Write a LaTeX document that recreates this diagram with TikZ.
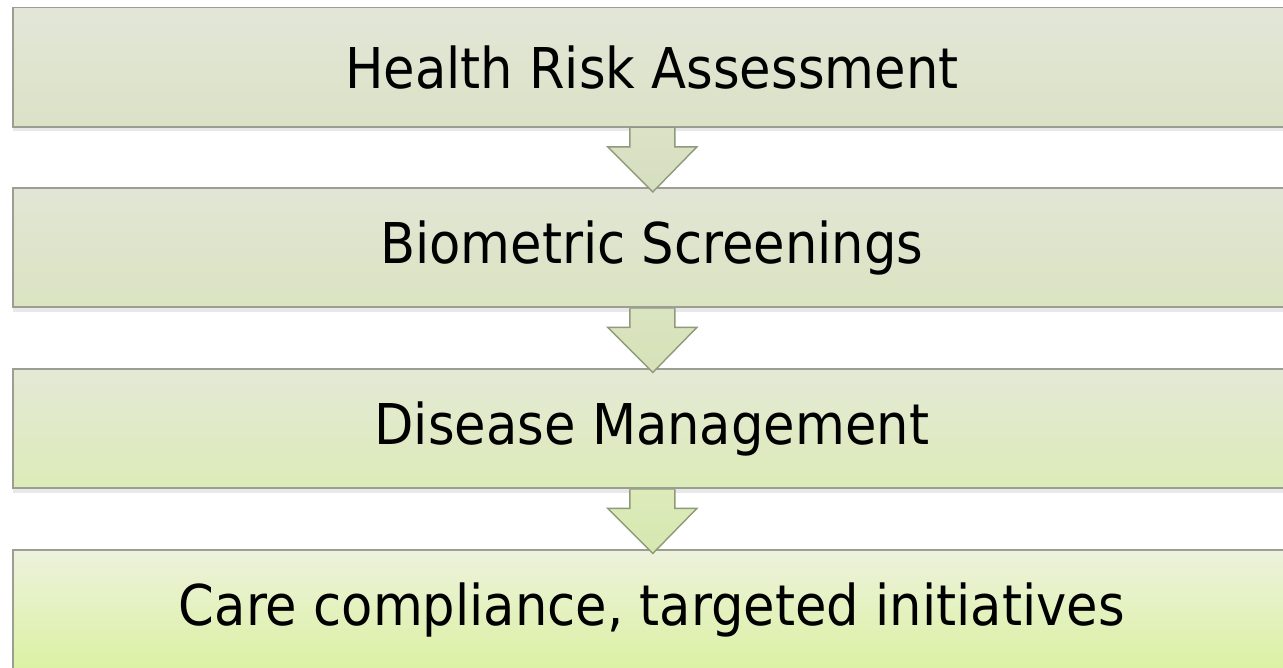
\documentclass[tikz,border=0pt]{standalone}
\usepackage{fontspec}
\setmainfont[FakeStretch=0.91]{DejaVu Sans}
\usetikzlibrary{positioning,calc,shadows}

\definecolor{boxedge}{HTML}{9C9E94}
\definecolor{arrowedge}{HTML}{8E9A78}
\definecolor{hraTop}{HTML}{E3E6D7}
\definecolor{hraBot}{HTML}{DBE2C6}
\definecolor{bioTop}{HTML}{E2E5D5}
\definecolor{bioBot}{HTML}{DAE4C1}
\definecolor{disTop}{HTML}{E4E9D5}
\definecolor{disBot}{HTML}{DCEBB9}
\definecolor{careTop}{HTML}{ECF2DC}
\definecolor{careBot}{HTML}{DCF1A3}
\definecolor{hraTip}{HTML}{D6DEC0}
\definecolor{bioTip}{HTML}{D6E2B8}
\definecolor{disTip}{HTML}{D7E7B0}

\begin{document}
\begin{tikzpicture}[x=0.02cm,y=-0.02cm,
  stage/.style={draw=boxedge,line width=1.1pt,anchor=north west,
    minimum width=25.56cm,minimum height=2.39cm,inner sep=0pt,
    font=\fontsize{32}{38}\selectfont,
    drop shadow={shadow xshift=0pt,shadow yshift=-2.5pt,opacity=0.18}},
  flow/.style={draw=arrowedge,line width=0.8pt,line join=miter}]
  \path[use as bounding box,clip] (0,0) rectangle (1283,667);

  % the four stages, stacked top to bottom
  \node[stage,top color=hraTop,bottom color=hraBot] (hra) at (12,6.5)
    {Health Risk Assessment};
  \node[stage,top color=bioTop,bottom color=bioBot] (bio) at (12,187)
    {Biometric Screenings};
  \node[stage,top color=disTop,bottom color=disBot] (dis) at (12,368)
    {Disease Management};
  \node[stage,top color=careTop,bottom color=careBot] (care) at (12,549)
    {Care compliance, targeted initiatives};

  % block arrows between stages (top edge left open)
  \foreach \a/\c/\t in {hra/hraBot/hraTip,bio/bioBot/bioTip,dis/disBot/disTip}{
    \filldraw[flow,top color=\c,bottom color=\t]
      ($(\a.south)+(-22,0)$) -- ++(0,19) -- ++(-22,0)
      -- ($(\a.south)+(1,64)$) -- ($(\a.south)+(45,19)$)
      -- ++(-22,0) -- ($(\a.south)+(23,0)$);
  }
\end{tikzpicture}
\end{document}
